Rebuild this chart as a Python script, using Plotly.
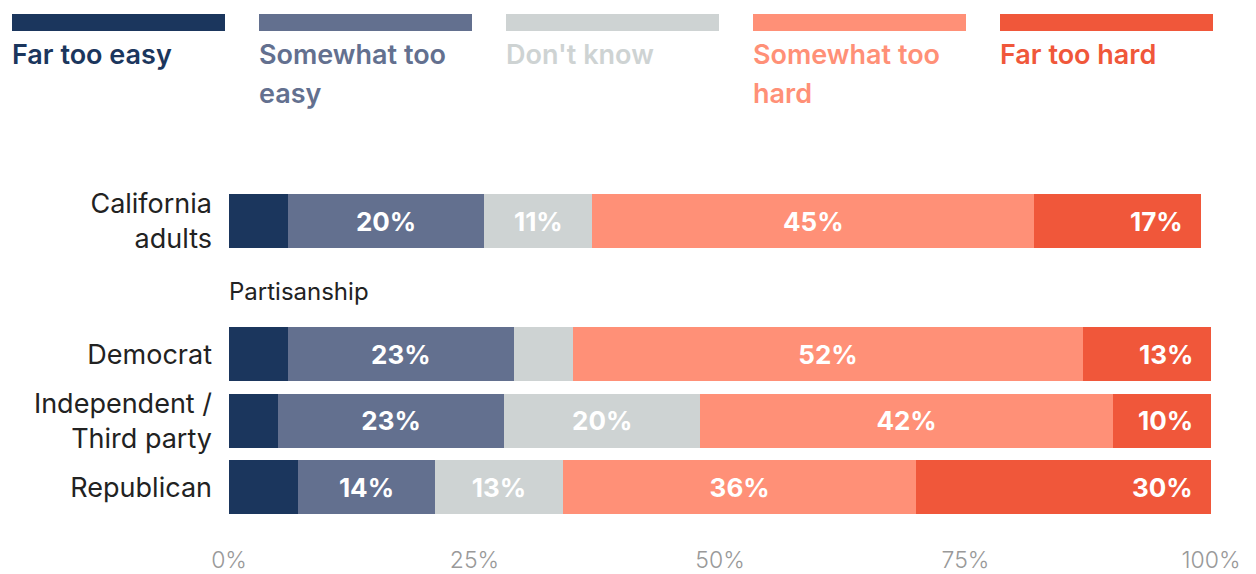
import textwrap
import plotly.graph_objects as go

# Survey groups (top to bottom) and the response categories
groups = ["California adults", "Democrat", "Independent / Third party", "Republican"]
group_labels = ["California<br>adults", "Democrat", "Independent /<br>Third party", "Republican"]
row_order = ["California adults", "Partisanship", "Democrat", "Independent / Third party", "Republican"]
section_label = "Partisanship"

responses = ["Far too easy", "Somewhat too easy", "Don't know", "Somewhat too hard", "Far too hard"]
colors = ["#1b365d", "#63708f", "#ced3d3", "#ff9077", "#f0573a"]

# Share of each group giving each response (%)
far_too_easy = [6, 6, 5, 7]
somewhat_too_easy = [20, 23, 23, 14]
dont_know = [11, 6, 20, 13]
somewhat_too_hard = [45, 52, 42, 36]
far_too_hard = [17, 13, 10, 30]
series = [far_too_easy, somewhat_too_easy, dont_know, somewhat_too_hard, far_too_hard]

x_ticks = [0, 25, 50, 75, 100]
x_tick_labels = ["0%", "25%", "50%", "75%", "100%"]

FONT = "Inter"
W, H = 1256, 574
L, R, T, B = 229, 45, 188, 30


def px_x(px):
    return (px - L) / (W - L - R)


def px_y(py):
    return (H - B - py) / (H - T - B)


y_pos = [row_order.index(g) for g in groups]

fig = go.Figure()
for i, (name, vals, col) in enumerate(zip(responses, series, colors)):
    last = i == len(responses) - 1
    text = ["" if (v < 10 or last) else f"{v}%" for v in vals]
    fig.add_trace(go.Bar(
        name=name, y=y_pos, x=vals, orientation="h",
        marker=dict(color=col, line=dict(width=0)),
        width=0.81, text=text, textposition="inside",
        insidetextanchor="middle",
        textfont=dict(family=FONT, size=26, color="white", weight=700),
        hoverinfo="x+name", showlegend=False,
    ))

# Right-aligned labels on the last segment of each bar
totals = [sum(s[k] for s in series) for k in range(len(groups))]
for k, g in enumerate(groups):
    v = far_too_hard[k]
    fig.add_annotation(
        x=totals[k], y=y_pos[k], xref="x", yref="y",
        text=f"{v}%", showarrow=False, xanchor="right", xshift=-16,
        font=dict(family=FONT, size=26, color="white", weight=700),
    )

# Section heading row
fig.add_annotation(
    x=0, y=row_order.index(section_label), xref="x", yref="y",
    text=section_label, showarrow=False, xanchor="left", xshift=-2, yshift=-4,
    font=dict(family=FONT, size=24, color="#222222"),
)

# Custom legend: colour band with wrapped name underneath
shapes = []
for i, (name, col) in enumerate(zip(responses, colors)):
    x0 = 12 + 247 * i
    x1 = x0 + 213
    shapes.append(dict(
        type="rect", xref="paper", yref="paper",
        x0=px_x(x0), x1=px_x(x1), y0=px_y(31), y1=px_y(14),
        fillcolor=col, line=dict(width=0), layer="above",
    ))
    for j, line in enumerate(textwrap.wrap(name, 12)):
        fig.add_annotation(
            x=px_x(x0 - 2), y=px_y(55 + 38 * j), xref="paper", yref="paper",
            text=line, showarrow=False, xanchor="left", yanchor="middle",
            font=dict(family=FONT, size=27, color=col, weight=600),
        )

fig.update_layout(
    width=W, height=H,
    margin=dict(l=L, r=R, t=T, b=B),
    barmode="stack",
    plot_bgcolor="white", paper_bgcolor="white",
    shapes=shapes,
    xaxis=dict(
        range=[0, 100], tickvals=x_ticks, ticktext=x_tick_labels,
        showgrid=False, zeroline=False, showline=False, ticks="",
        tickfont=dict(family=FONT, size=23, color="#999999", weight=300),
        fixedrange=True, automargin=False,
    ),
    yaxis=dict(
        range=[4.85, -0.5], tickvals=y_pos, ticktext=group_labels,
        showgrid=False, zeroline=False, showline=False, ticks="",
        ticklabelstandoff=16,
        tickfont=dict(family=FONT, size=27, color="#222222"),
        fixedrange=True, automargin=False,
    ),
    font=dict(family=FONT),
)

fig.write_html("out.html")
